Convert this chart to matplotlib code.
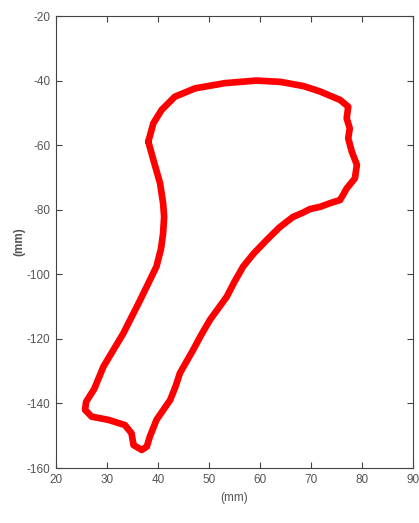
import numpy as np
import matplotlib.pyplot as plt

plt.rcParams["axes.unicode_minus"] = False
plt.rcParams["font.family"] = ["Liberation Sans", "DejaVu Sans"]

# outline of the contour (mm), clockwise from the head's left corner
x_mm = [38.1, 39.1, 40.7, 43.3, 47.3, 53.1, 59.3, 64.0, 68.5, 71.8, 75.7, 77.3,
        77.0, 77.6, 77.3, 78.0, 79.0, 78.6, 77.0, 76.3, 75.7, 73.7, 71.8, 69.8,
        68.3, 66.5, 63.8, 61.3, 58.8, 56.7, 55.0, 53.5, 50.2, 48.5, 46.9, 44.3,
        43.5, 42.4, 39.7, 38.4, 37.8, 36.8, 35.2, 34.8, 33.5, 30.3, 27.0, 25.7,
        25.9, 27.5, 29.3, 33.2, 36.5, 39.7, 40.6, 41.0, 41.2, 41.0, 40.4, 39.1,
        38.1]
y_mm = [-58.9, -53.2, -49.1, -45.0, -42.4, -40.8, -40.0, -40.4, -41.7, -43.4, -46.0, -48.1,
        -51.7, -54.8, -57.9, -62.0, -66.1, -70.3, -73.4, -75.4, -77.0, -78.0, -79.1, -79.8,
        -81.0, -82.2, -85.5, -89.4, -93.5, -97.6, -102.3, -106.9, -114.1, -118.7, -123.4, -130.6,
        -134.5, -138.9, -145.1, -150.3, -153.4, -154.4, -152.9, -149.2, -146.7, -145.1, -144.1, -142.0,
        -139.5, -135.5, -128.6, -118.3, -108.0, -97.6, -92.0, -87.3, -82.2, -78.0, -71.8, -64.6,
        -58.9]

fig = plt.figure(figsize=(4.19, 5.23), dpi=100)
ax = fig.add_axes([56 / 419, 1 - 468 / 523, 357 / 419, 452 / 523])

ax.plot(x_mm, y_mm, color="#ff0000", linewidth=4.8, solid_joinstyle="round", solid_capstyle="round")

ax.set_xlim(20, 90)
ax.set_ylim(-160, -20)
ax.set_xticks(np.arange(20, 91, 10))
ax.set_yticks(np.arange(-160, -19, 20))

grey = "#555555"
for s in ax.spines.values():
    s.set_color("#444444")
    s.set_linewidth(0.8)
ax.tick_params(direction="in", top=True, right=True, length=4, width=0.8,
               colors="#444444", labelcolor=grey, labelsize=8.5, pad=4)

ax.set_xlabel("(mm)", fontsize=8.5, color=grey, labelpad=5)
ax.set_ylabel("(mm)", fontsize=8.5, color=grey, fontweight="bold", labelpad=1)

fig.savefig("out.png", dpi=100)
